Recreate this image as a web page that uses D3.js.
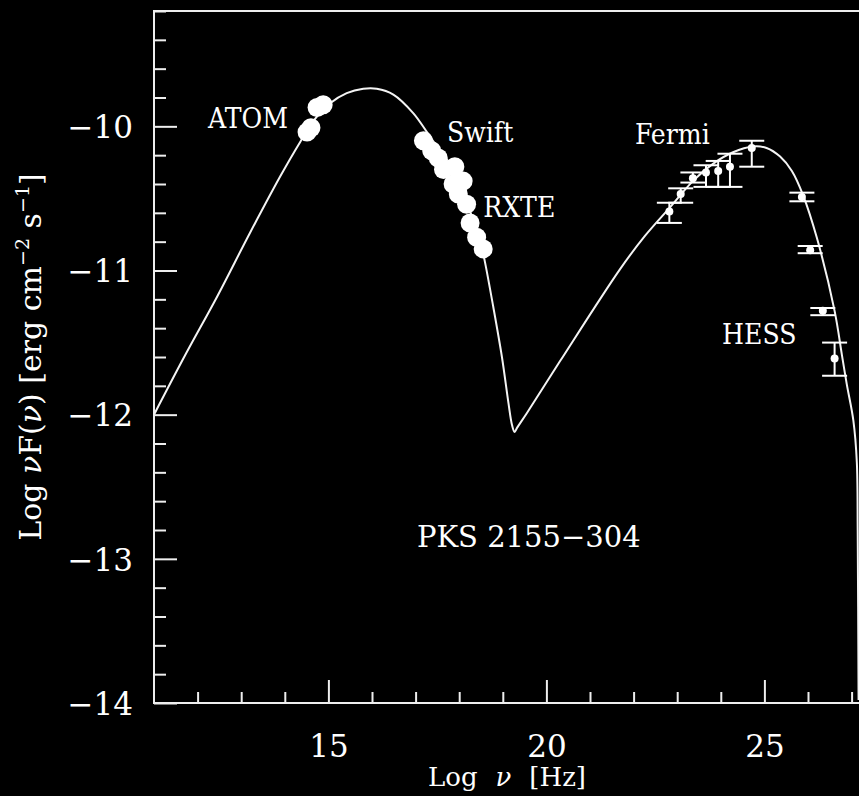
<!DOCTYPE html>
<html>
<head>
<meta charset="utf-8">
<script src="https://d3js.org/d3.v7.min.js"></script>
<style>
  html, body { margin: 0; padding: 0; background: #000; }
  svg { display: block; }
  text { font-family: "DejaVu Serif", serif; fill: #fff; }
</style>
</head>
<body>
<div id="chart"></div>
<script>
// SED of PKS 2155-304, log nu vs log nuF(nu)

// model curve (synchrotron + inverse Compton)
const modelLogNu = [11.00, 11.71, 12.45, 13.20, 13.89, 14.35, 14.69, 15.04, 15.42, 15.80,
  16.11, 16.49, 16.95, 17.26, 17.56, 17.90, 18.25, 18.48, 18.59, 18.78, 18.98, 19.13,
  19.21, 19.27, 19.33, 19.55, 20.31, 21.69, 22.26, 22.84, 23.36, 23.82, 24.28, 24.74,
  25.05, 25.36, 25.63, 25.89, 26.20, 26.61, 26.78, 26.89, 27.04, 27.12, 27.14, 27.15, 27.16];
const modelLogFlux = [-12.00, -11.59, -11.18, -10.74, -10.35, -10.11, -9.95, -9.84, -9.77, -9.74,
  -9.74, -9.78, -9.91, -10.04, -10.17, -10.31, -10.59, -10.79, -10.94, -11.25, -11.60, -11.92,
  -12.07, -12.12, -12.09, -11.99, -11.63, -10.99, -10.76, -10.56, -10.38, -10.26, -10.18, -10.14,
  -10.15, -10.21, -10.31, -10.48, -10.77, -11.28, -11.59, -11.79, -12.04, -12.33, -12.80, -13.33, -13.98];

// ATOM optical
const atomLogNu = [14.51, 14.60, 14.74, 14.88];
const atomLogFlux = [-10.04, -10.01, -9.87, -9.85];

// Swift + RXTE X-ray
const xrayLogNu = [17.18, 17.37, 17.52, 17.64, 17.90, 17.86, 18.09, 17.98, 18.17, 18.25, 18.40, 18.55];
const xrayLogFlux = [-10.10, -10.17, -10.22, -10.30, -10.28, -10.40, -10.38, -10.47, -10.54, -10.67, -10.77, -10.85];

// Fermi LAT
const fermiLogNu = [22.82, 23.08, 23.36, 23.66, 23.94, 24.21, 24.71];
const fermiLogFlux = [-10.59, -10.47, -10.36, -10.32, -10.31, -10.28, -10.15];
const fermiHi = [-10.53, -10.43, -10.32, -10.27, -10.24, -10.19, -10.10];
const fermiLo = [-10.67, -10.53, -10.39, -10.42, -10.42, -10.42, -10.28];

// HESS
const hessLogNu = [25.86, 26.05, 26.34, 26.61];
const hessLogFlux = [-10.49, -10.86, -11.28, -11.61];
const hessHi = [-10.46, -10.83, -11.26, -11.50];
const hessLo = [-10.52, -10.88, -11.31, -11.73];

// text labels, in data coordinates
const labels = [
  { text: "ATOM", x: 12.24, y: -10.01, wide: false },
  { text: "Swift", x: 17.72, y: -10.11, wide: false },
  { text: "RXTE", x: 18.55, y: -10.63, wide: false },
  { text: "Fermi", x: 22.03, y: -10.12, wide: false },
  { text: "HESS", x: 24.03, y: -11.51, wide: false },
  { text: "PKS 2155\u2212304", x: 17.03, y: -12.92, wide: true }
];

const xMajor = [15, 20, 25];
const yMajor = [-14, -13, -12, -11, -10];

const width = 859, height = 796;
const margin = { left: 154, top: 11 };
const plotH = 692;

const svg = d3.select('#chart').append('svg')
  .attr('width', width)
  .attr('height', height);

const x = d3.scaleLinear().domain([11, 28]).range([margin.left, margin.left + 17 * 43.6]);
const y = d3.scaleLinear().domain([-14, -9.2]).range([margin.top + plotH, margin.top]);

const fmt = d => String(d).replace('-', '\u2212');

// minor ticks
const xMinor = d3.range(12, 28).filter(v => !xMajor.includes(v));
const yMinor = d3.range(-14, -9.19, 0.2).map(v => +v.toFixed(1)).filter(v => !yMajor.includes(v));

const xAxisMinor = svg.append('g')
  .attr('transform', `translate(0,${y(-14)})`)
  .call(d3.axisBottom(x).tickValues(xMinor).tickSize(-11).tickFormat(''));
const xAxisMajor = svg.append('g')
  .attr('transform', `translate(0,${y(-14)})`)
  .call(d3.axisBottom(x).tickValues(xMajor).tickSize(-23).tickPadding(0).tickFormat(fmt));
const yAxisMinor = svg.append('g')
  .attr('transform', `translate(${x(11)},0)`)
  .call(d3.axisLeft(y).tickValues(yMinor).tickSize(-12).tickFormat(''));
const yAxisMajor = svg.append('g')
  .attr('transform', `translate(${x(11)},0)`)
  .call(d3.axisLeft(y).tickValues(yMajor).tickSize(-23).tickFormat(fmt));

[xAxisMinor, xAxisMajor, yAxisMinor, yAxisMajor].forEach(g => {
  g.select('.domain').remove();
  g.selectAll('line').attr('stroke', '#eee').attr('stroke-width', 2);
});

xAxisMajor.selectAll('text')
  .attr('y', 54)
  .attr('dy', 0)
  .style('font-size', '31px')
  .style('font-family', '"DejaVu Serif", serif')
  .attr('fill', '#fff');

yAxisMajor.selectAll('text')
  .attr('x', -21)
  .attr('dy', '0.36em')
  .style('font-size', '31px')
  .style('font-family', '"DejaVu Serif", serif')
  .attr('fill', '#fff');

// frame
svg.append('rect')
  .attr('x', x(11))
  .attr('y', y(-9.2))
  .attr('width', x(28) - x(11))
  .attr('height', y(-14) - y(-9.2))
  .attr('fill', 'none')
  .attr('stroke', '#eee')
  .attr('stroke-width', 2);

// model curve
const line = d3.line()
  .x((d, i) => x(modelLogNu[i]))
  .y(d => y(d))
  .curve(d3.curveCatmullRom.alpha(0.5));

svg.append('path')
  .datum(modelLogFlux)
  .attr('d', line)
  .attr('fill', 'none')
  .attr('stroke', '#f4f4f4')
  .attr('stroke-width', 2);

// big dots: ATOM and X-ray
const bigDots = atomLogNu.map((v, i) => [v, atomLogFlux[i]])
  .concat(xrayLogNu.map((v, i) => [v, xrayLogFlux[i]]));

svg.selectAll('.big-dot')
  .data(bigDots)
  .enter()
  .append('circle')
  .attr('class', 'big-dot')
  .attr('cx', d => x(d[0]))
  .attr('cy', d => y(d[1]))
  .attr('r', 9.5)
  .attr('fill', '#fff');

// gamma-ray points with error bars
const gamma = fermiLogNu.map((v, i) => ({ x: v, y: fermiLogFlux[i], hi: fermiHi[i], lo: fermiLo[i] }))
  .concat(hessLogNu.map((v, i) => ({ x: v, y: hessLogFlux[i], hi: hessHi[i], lo: hessLo[i] })));

const cap = 12.5;
const eb = svg.selectAll('.errbar')
  .data(gamma)
  .enter()
  .append('g')
  .attr('class', 'errbar')
  .attr('stroke', '#fff')
  .attr('stroke-width', 2);

eb.append('line')
  .attr('x1', d => x(d.x)).attr('x2', d => x(d.x))
  .attr('y1', d => y(d.hi)).attr('y2', d => y(d.lo));
eb.append('line')
  .attr('x1', d => x(d.x) - cap).attr('x2', d => x(d.x) + cap)
  .attr('y1', d => y(d.hi)).attr('y2', d => y(d.hi));
eb.append('line')
  .attr('x1', d => x(d.x) - cap).attr('x2', d => x(d.x) + cap)
  .attr('y1', d => y(d.lo)).attr('y2', d => y(d.lo));
eb.append('circle')
  .attr('cx', d => x(d.x))
  .attr('cy', d => y(d.y))
  .attr('r', 4)
  .attr('stroke', 'none')
  .attr('fill', '#fff');

// labels
svg.selectAll('.lbl')
  .data(labels)
  .enter()
  .append('text')
  .attr('class', 'lbl')
  .attr('x', d => x(d.x))
  .attr('y', d => y(d.y))
  .style('font-family', d => d.wide ? '"DejaVu Serif", serif' : '"DejaVu Serif Condensed", "DejaVu Serif", serif')
  .style('font-size', d => d.wide ? '29px' : '28px')
  .text(d => d.text);

// x axis title
const xt = svg.append('text')
  .attr('x', 507)
  .attr('y', 786)
  .attr('text-anchor', 'middle')
  .style('font-size', '26px');
xt.append('tspan').text('Log');
xt.append('tspan').attr('dx', 18).style('font-style', 'italic').text('\u03bd');
xt.append('tspan').attr('dx', 18).text('[Hz]');

// y axis title
const yt = svg.append('text')
  .attr('transform', 'translate(41,357) rotate(-90)')
  .attr('text-anchor', 'middle')
  .style('font-size', '30px');
yt.append('tspan').text('Log ');
yt.append('tspan').style('font-style', 'italic').text('\u03bd');
yt.append('tspan').text('F(');
yt.append('tspan').style('font-style', 'italic').text('\u03bd');
yt.append('tspan').text(') [erg cm');
yt.append('tspan').attr('dy', -12).style('font-size', '19px').text('\u22122');
yt.append('tspan').attr('dy', 12).text(' s');
yt.append('tspan').attr('dy', -12).style('font-size', '19px').text('\u22121');
yt.append('tspan').attr('dy', 12).text(']');
</script>
</body>
</html>
